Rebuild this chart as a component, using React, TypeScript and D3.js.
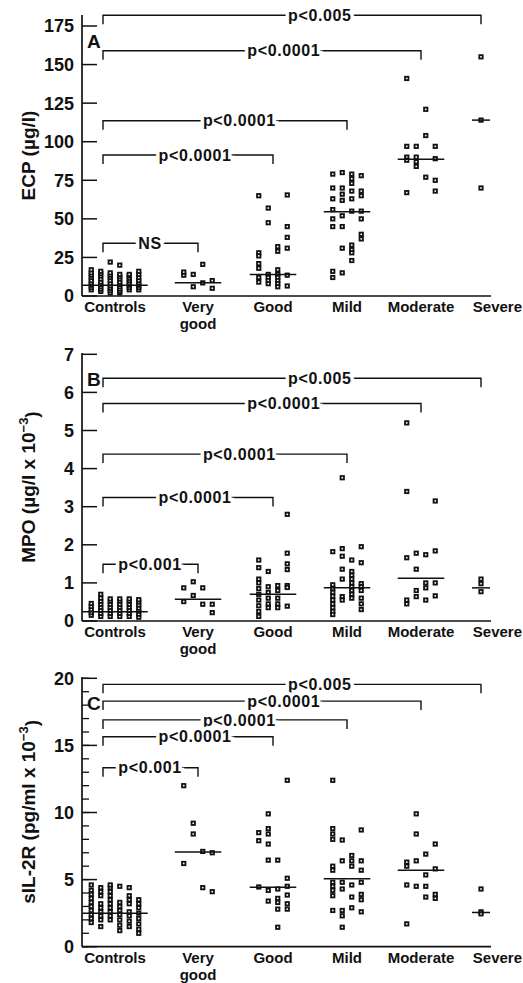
import React from 'react';
import * as d3 from 'd3';

// ---------- categories ----------
const categories = ['Controls', 'Very good', 'Good', 'Mild', 'Moderate', 'Severe'];
const categoryLines = [['Controls'], ['Very', 'good'], ['Good'], ['Mild'], ['Moderate'], ['Severe']];

// ---------- Panel A: ECP (µg/l) — values grouped by dot column ----------
const ecpControls = [
  [4, 5.5, 7, 8.5, 10, 12, 13.5, 15, 17],
  [3, 4.5, 6, 7.5, 9, 11, 13, 14.5, 16],
  [2, 3.5, 5, 6.5, 8, 10, 12, 13.5, 15, 22],
  [2, 3, 4.5, 6, 7.5, 9, 11, 12.5, 14, 20],
  [4, 5.5, 7, 8.5, 10, 11.5, 13, 14],
  [4, 5.5, 7, 8.5, 10, 12, 14, 16],
];
const ecpVeryGood = [[13.5, 15.5], [6, 14], [8.5, 20.5], [5, 10]];
const ecpGood = [
  [65, 28, 26, 21, 18, 12, 9],
  [57, 47.5, 14, 12, 10, 8],
  [32, 29, 17, 14, 12, 10, 8, 6],
  [65.5, 45, 38, 31, 13.5, 6.5],
];
const ecpMild = [
  [79, 70, 63, 56, 50, 45, 16, 12],
  [80, 70, 66, 62, 52, 45, 31, 15],
  [79, 76, 73, 68, 63, 55, 33, 30, 28, 23],
  [78, 68, 65, 55, 50, 40, 37],
];
const ecpModerate = [[141, 97, 90, 88, 67], [97, 90, 87, 84], [121, 104, 77], [97, 89, 75, 68]];
const ecpSevere = [[155, 114, 70]];
const ecpMedians = [7, 8.6, 14, 54.6, 88.6, 114];
const ecpTicks = [0, 25, 50, 75, 100, 125, 150, 175];
const ecpBracketTo = ['Severe', 'Moderate', 'Mild', 'Good', 'Very good'];
const ecpBracketLevel = [182, 159, 113.6, 91.4, 34.2];
const ecpBracketLabel = ['p<0.005', 'p<0.0001', 'p<0.0001', 'p<0.0001', 'NS'];

// ---------- Panel B: MPO (µg/l x 10^-3) ----------
const mpoControls = [
  [0.15, 0.22, 0.3, 0.38, 0.46],
  [0.12, 0.2, 0.28, 0.36, 0.44, 0.52, 0.6, 0.7],
  [0.12, 0.2, 0.28, 0.36, 0.44, 0.52, 0.58],
  [0.12, 0.2, 0.28, 0.36, 0.44, 0.52, 0.58],
  [0.12, 0.2, 0.28, 0.36, 0.44, 0.52, 0.58],
  [0.1, 0.18, 0.26, 0.34, 0.42, 0.5, 0.56],
];
const mpoVeryGood = [[0.87, 0.51], [1.03, 0.67], [0.87, 0.44], [0.44, 0.22]];
const mpoGood = [
  [1.6, 1.4, 1.1, 1.0, 0.85, 0.7, 0.55, 0.4, 0.25, 0.12],
  [1.3, 0.9, 0.75, 0.6, 0.45, 0.35],
  [0.93, 0.8, 0.6, 0.45, 0.35],
  [2.8, 1.78, 1.5, 1.35, 0.93, 0.88, 0.39],
];
const mpoMild = [
  [1.82, 0.95, 0.85, 0.75, 0.65, 0.55, 0.45, 0.35, 0.25, 0.17],
  [3.76, 1.9, 1.7, 1.36, 1.1, 0.64, 0.55],
  [1.6, 1.3, 1.2, 1.1, 1.0, 0.9, 0.8, 0.7, 0.6],
  [1.95, 1.53, 0.98, 0.9, 0.8, 0.6, 0.45, 0.3],
];
const mpoModerate = [[5.2, 3.4, 1.66, 0.55, 0.45], [1.78, 1.36, 0.8, 0.64], [1.74, 1.0, 0.87, 0.55], [3.15, 1.84, 1.0, 0.66]];
const mpoSevere = [[1.1, 0.98, 0.77]];
const mpoMedians = [0.24, 0.57, 0.7, 0.87, 1.12, 0.87];
const mpoTicks = [0, 1, 2, 3, 4, 5, 6, 7];
const mpoBracketTo = ['Severe', 'Moderate', 'Mild', 'Good', 'Very good'];
const mpoBracketLevel = [6.37, 5.71, 4.38, 3.24, 1.49];
const mpoBracketLabel = ['p<0.005', 'p<0.0001', 'p<0.0001', 'p<0.0001', 'p<0.001'];

// ---------- Panel C: sIL-2R (pg/ml x 10^-3) ----------
const ilControls = [
  [1.8, 2.1, 2.4, 2.7, 3.0, 3.3, 3.6, 3.9, 4.2, 4.6],
  [1.5, 2.0, 2.3, 2.6, 2.9, 3.2, 3.8, 4.1, 4.4],
  [2.0, 2.3, 2.6, 2.9, 3.2, 3.5, 3.8, 4.1, 4.4, 4.6],
  [1.2, 1.6, 2.0, 2.4, 2.7, 3.0, 3.3, 4.5],
  [1.5, 1.9, 2.3, 2.6, 3.2, 3.5, 3.8, 4.4],
  [1.0, 1.3, 1.7, 2.1, 2.5, 2.9, 3.2, 3.5],
];
const ilVeryGood = [[12, 6.2], [9.2, 8.4], [7.1, 4.4], [7.0, 4.1]];
const ilGood = [
  [8.5, 7.9, 4.45],
  [9.9, 8.8, 8.4, 7.65, 6.45, 4.2, 3.4],
  [6.45, 4.3, 3.6, 3.3, 2.8, 1.45],
  [12.4, 5.1, 4.5, 3.85, 3.2, 2.8],
];
const ilMild = [
  [12.4, 8.8, 8.4, 8.0, 6.0, 5.7, 4.8, 4.5, 4.2, 3.8, 2.7],
  [7.95, 6.4, 4.8, 4.3, 2.7, 2.3, 1.45],
  [6.8, 6.4, 6.0, 4.6, 3.7, 2.9],
  [8.7, 6.4, 5.7, 4.8, 3.9, 3.5, 2.6],
];
const ilModerate = [[6.3, 6.0, 4.6, 1.7], [9.9, 8.4, 6.4, 4.5], [6.9, 5.35, 4.5, 3.7], [7.65, 5.8, 3.9, 3.6]];
const ilSevere = [[4.3, 2.6, 2.45]];
const ilMedians = [2.5, 7.06, 4.43, 5.07, 5.7, 2.55];
const ilTicks = [0, 5, 10, 15, 20];
const ilMinorTicks = d3.range(0, 21, 1);
const ilBracketTo = ['Severe', 'Moderate', 'Mild', 'Good', 'Very good'];
const ilBracketLevel = [19.55, 18.3, 16.9, 15.65, 13.34];
const ilBracketLabel = ['p<0.005', 'p<0.0001', 'p<0.0001', 'p<0.0001', 'p<0.001'];

// ---------- layout ----------
const W = 523;
const H = 983;
const FONT = "'Liberation Sans', Arial, Helvetica, sans-serif";
const AXIS_X = 82;
const AXIS_RIGHT = 491;
const COL_GAP = 9.5;
const MARK = 3.4;

const xScale = d3
  .scaleOrdinal<string, number>()
  .domain(categories)
  .range([115, 198, 273, 347, 421, 481]);

type Panel = {
  letter: string;
  title: string;
  sup?: string;
  tail?: string;
  yTop: number;
  yBottom: number;
  axisTop: number;
  domain: [number, number];
  ticks: number[];
  minor: number[];
  groups: number[][][];
  medians: number[];
  bTo: string[];
  bLevel: number[];
  bLabel: string[];
};

const panels: Panel[] = [
  {
    letter: 'A', title: 'ECP (µg/l)', yTop: 26, yBottom: 296, axisTop: 15, domain: [0, 175],
    ticks: ecpTicks, minor: [],
    groups: [ecpControls, ecpVeryGood, ecpGood, ecpMild, ecpModerate, ecpSevere],
    medians: ecpMedians, bTo: ecpBracketTo, bLevel: ecpBracketLevel, bLabel: ecpBracketLabel,
  },
  {
    letter: 'B', title: 'MPO (µg/l x 10', sup: '−3', tail: ')', yTop: 354.3, yBottom: 621, axisTop: 353, domain: [0, 7],
    ticks: mpoTicks, minor: [],
    groups: [mpoControls, mpoVeryGood, mpoGood, mpoMild, mpoModerate, mpoSevere],
    medians: mpoMedians, bTo: mpoBracketTo, bLevel: mpoBracketLevel, bLabel: mpoBracketLabel,
  },
  {
    letter: 'C', title: 'sIL-2R (pg/ml x 10', sup: '−3', tail: ')', yTop: 678.3, yBottom: 946.7, axisTop: 677, domain: [0, 20],
    ticks: ilTicks, minor: ilMinorTicks,
    groups: [ilControls, ilVeryGood, ilGood, ilMild, ilModerate, ilSevere],
    medians: ilMedians, bTo: ilBracketTo, bLevel: ilBracketLevel, bLabel: ilBracketLabel,
  },
];

function PanelView({ p }: { p: Panel }) {
  const y = d3.scaleLinear().domain(p.domain).range([p.yBottom, p.yTop]);
  const midY = (p.yBottom + p.axisTop) / 2;
  const leftX = (xScale('Controls') as number) - 12;
  return (
    <g>
      {/* axes */}
      <line x1={AXIS_X} x2={AXIS_X} y1={p.axisTop} y2={p.yBottom} stroke="#111" strokeWidth={1.7} />
      <line x1={AXIS_X} x2={AXIS_RIGHT} y1={p.yBottom} y2={p.yBottom} stroke="#111" strokeWidth={1.7} />
      {p.minor.map((t) => (
        <line key={'m' + t} x1={AXIS_X} x2={AXIS_X + 7} y1={y(t)} y2={y(t)} stroke="#111" strokeWidth={1.3} />
      ))}
      {p.ticks.map((t) => (
        <g key={'t' + t}>
          <line x1={AXIS_X} x2={AXIS_X + 15} y1={y(t)} y2={y(t)} stroke="#111" strokeWidth={1.5} />
          <text x={74} y={y(t)} dy="0.36em" textAnchor="end" fontSize={18} fontWeight="bold" fontFamily={FONT} fill="#111">
            {t}
          </text>
        </g>
      ))}
      {/* panel letter */}
      <text x={87} y={p.axisTop + 33} fontSize={19} fontWeight="bold" fontFamily={FONT} fill="#111">
        {p.letter}
      </text>
      {/* y title */}
      <text
        transform={`translate(28,${midY}) rotate(-90)`}
        dy="0.36em"
        textAnchor="middle"
        fontSize={19}
        fontWeight="bold"
        fontFamily={FONT}
        fill="#111"
      >
        {p.title}
        {p.sup ? (
          <tspan dy="-0.55em" fontSize={13}>
            {p.sup}
          </tspan>
        ) : null}
        {p.tail ? <tspan dy="0.55em">{p.tail}</tspan> : null}
      </text>
      {/* category labels */}
      {categories.map((c, i) => {
        const last = i === categories.length - 1;
        const lx = last ? W - 1 : (xScale(c) as number);
        return categoryLines[i].map((ln, k) => (
          <text
            key={c + k}
            x={lx}
            y={p.yBottom + 16 + k * 17}
            textAnchor={last ? 'end' : 'middle'}
            fontSize={15}
            fontWeight="bold"
            fontFamily={FONT}
            fill="#111"
          >
            {ln}
          </text>
        ));
      })}
      {/* brackets */}
      {p.bTo.map((to, i) => {
        const x1 = leftX;
        const x2 = xScale(to) as number;
        const yy = y(p.bLevel[i]);
        const span = x2 - x1;
        const lx = (x1 + x2) / 2 + 0.1 * span - 10;
        return (
          <g key={'b' + i}>
            <path d={`M${x1},${yy + 9}V${yy}H${x2}V${yy + 9}`} fill="none" stroke="#111" strokeWidth={1.4} />
            <text
              x={lx}
              y={yy}
              dy="0.36em"
              textAnchor="middle"
              fontSize={16}
              fontWeight="bold"
              fontFamily={FONT}
              letterSpacing={0.6}
              fill="#111"
              stroke="#fff"
              strokeWidth={7}
              style={{ paintOrder: 'stroke' }}
            >
              {p.bLabel[i]}
            </text>
          </g>
        );
      })}
      {/* points */}
      {p.groups.map((cols, gi) => {
        const cx = xScale(categories[gi]) as number;
        const n = cols.length;
        return (
          <g key={'g' + gi}>
            {cols.map((vals, ci) => {
              const x = cx + (ci - (n - 1) / 2) * COL_GAP;
              return vals.map((v, vi) => (
                <rect
                  key={ci + '-' + vi}
                  x={x - MARK / 2}
                  y={y(v) - MARK / 2}
                  width={MARK}
                  height={MARK}
                  fill="#fff"
                  stroke="#111"
                  strokeWidth={1.8}
                />
              ));
            })}
          </g>
        );
      })}
      {/* medians */}
      {p.medians.map((m, gi) => {
        const cx = xScale(categories[gi]) as number;
        const n = p.groups[gi].length;
        const half = ((n - 1) / 2) * COL_GAP + 9;
        return <line key={'md' + gi} x1={cx - half} x2={cx + half} y1={y(m)} y2={y(m)} stroke="#111" strokeWidth={1.5} />;
      })}
    </g>
  );
}

export default function App() {
  return (
    <svg width={W} height={H} style={{ position: 'absolute', left: 0, top: 0, background: '#fff' }}>
      <rect width={W} height={H} fill="#fff" />
      {panels.map((p) => (
        <PanelView key={p.letter} p={p} />
      ))}
    </svg>
  );
}
